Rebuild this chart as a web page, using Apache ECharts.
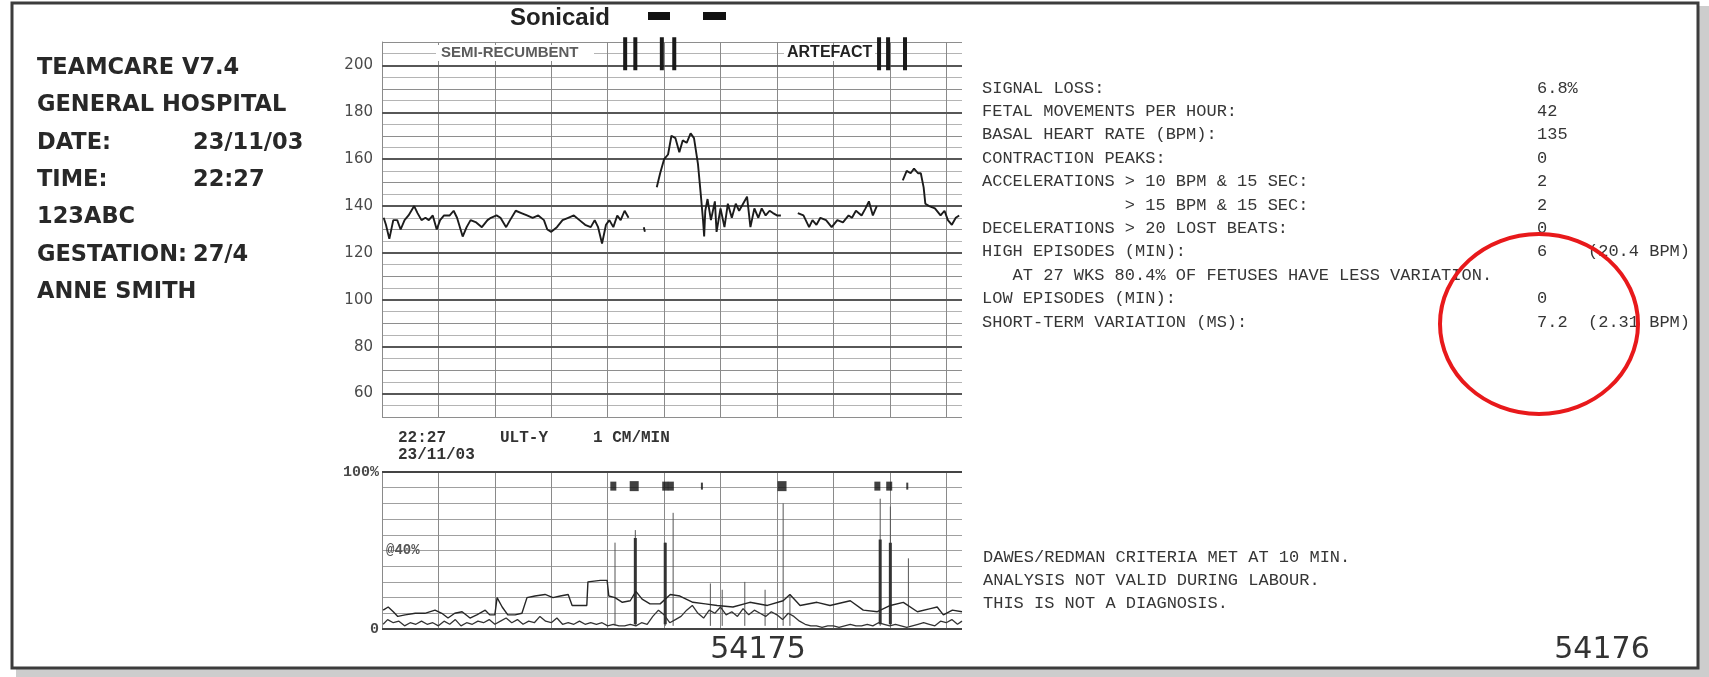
<!DOCTYPE html>
<html>
<head>
<meta charset="utf-8">
<title>CTG trace</title>
<script src="https://cdn.jsdelivr.net/npm/echarts@6.0.0/dist/echarts.min.js"></script>
<style>
  html, body { margin: 0; padding: 0; background: #ffffff; }
  #chart { width: 1709px; height: 677px; }
</style>
</head>
<body>
<div id="chart"></div>
<script>
// ---- Fetal heart rate (bpm) by minute of recording; gaps are signal loss ----
const fhrSegment1 = [
  [0.03,135],[0.07,132],[0.13,126],[0.20,134],[0.27,134],[0.33,130],[0.40,134],[0.47,136],
  [0.57,140],[0.63,137],[0.70,134],[0.77,135],[0.83,134],[0.90,136],[0.97,130],[1.03,134],
  [1.10,136],[1.20,136],[1.27,138],[1.33,135],[1.43,127],[1.50,131],[1.57,134],[1.67,133],
  [1.77,131],[1.87,134],[1.93,135],[2.03,136],[2.10,135],[2.20,131],[2.27,134],[2.37,138],
  [2.47,137],[2.57,136],[2.67,135],[2.77,136],[2.87,134],[2.93,130],[3.00,129],[3.10,131],
  [3.20,134],[3.30,135],[3.40,136],[3.50,134],[3.60,132],[3.70,131],[3.77,134],[3.83,131],
  [3.90,124],[3.97,132],[4.03,134],[4.10,131],[4.17,136],[4.23,134],[4.30,138],[4.37,135]
];
const fhrSegment2 = [[4.64,131],[4.66,129]];
const fhrSegment3 = [
  [4.87,148],[4.93,154],[5.00,160],[5.07,162],[5.13,170],[5.20,169],[5.27,163],[5.33,168],
  [5.40,167],[5.47,171],[5.53,169],[5.60,158],[5.65,145],[5.69,134],[5.71,127],[5.73,138],
  [5.77,143],[5.83,134],[5.90,142],[5.93,129],[6.00,139],[6.07,131],[6.13,141],[6.20,135],
  [6.27,141],[6.33,138],[6.40,141],[6.47,144],[6.53,131],[6.60,139],[6.67,135],[6.73,139],
  [6.80,136],[6.87,138],[6.93,137],[7.00,136],[7.07,136]
];
const fhrSegment4 = [
  [7.37,137],[7.47,136],[7.57,131],[7.63,134],[7.70,132],[7.77,135],[7.87,134],[7.97,131],
  [8.07,134],[8.17,133],[8.27,136],[8.33,135],[8.40,138],[8.50,136],[8.57,139],[8.63,142],
  [8.70,136],[8.77,140]
];
const fhrSegment5 = [
  [9.23,151],[9.30,155],[9.37,154],[9.43,156],[9.50,154],[9.55,154],[9.60,148],[9.63,141],
  [9.70,140],[9.80,139],[9.90,136],[9.97,138],[10.03,134],[10.10,132],[10.17,135],[10.23,136]
];
// event-marker presses (minutes)
const eventMinutes = [4.31, 4.49, 4.96, 5.18, 8.81, 8.97, 9.27];
const fhrTickLabels = [60, 80, 100, 120, 140, 160, 180, 200];

// ---- Uterine activity (%) ----
const tocoUpper = [
  [0.02,12],[0.11,14],[0.20,11],[0.28,8],[0.41,9],[0.59,10],[0.76,10],[0.94,12],[1.06,10],
  [1.17,7],[1.29,10],[1.42,11],[1.56,7],[1.68,9],[1.83,12],[1.91,9],[2.00,9],[2.04,20],
  [2.13,14],[2.23,9],[2.36,9],[2.48,10],[2.57,20],[2.71,21],[2.89,22],[3.03,20],[3.16,21],
  [3.30,22],[3.37,15],[3.51,15],[3.63,15],[3.65,30],[3.87,31],[3.99,31],[4.02,21],[4.13,20],
  [4.26,17],[4.40,18],[4.50,24],[4.61,19],[4.75,16],[4.93,16],[5.11,22],[5.28,21],[5.51,17],
  [5.73,16],[5.94,15],[6.22,14],[6.52,17],[6.83,15],[7.11,18],[7.23,22],[7.41,15],[7.71,17],
  [7.94,15],[8.30,18],[8.53,12],[8.78,11],[9.01,15],[9.24,17],[9.49,11],[9.72,13],[9.84,14],
  [9.95,9],[10.11,12],[10.28,11]
];
const tocoLower = [
  [0.02,3],[0.10,6],[0.20,4],[0.30,5],[0.40,2],[0.50,4],[0.60,3],[0.70,5],[0.80,3],[0.90,4],
  [1.00,2],[1.10,5],[1.20,3],[1.30,6],[1.40,2],[1.50,4],[1.60,3],[1.70,5],[1.80,4],[1.90,6],
  [2.00,3],[2.10,5],[2.20,7],[2.30,4],[2.40,6],[2.50,3],[2.60,5],[2.70,4],[2.80,8],[2.90,5],
  [3.00,4],[3.10,7],[3.20,3],[3.30,4],[3.40,3],[3.50,5],[3.60,3],[3.70,4],[3.80,3],[3.90,4],
  [4.00,2],[4.10,3],[4.20,2],[4.30,2],[4.40,3],[4.50,2],[4.60,4],[4.70,3],[4.80,8],[4.90,12],
  [5.00,9],[5.10,4],[5.20,6],[5.30,8],[5.40,12],[5.50,15],[5.60,10],[5.70,7],[5.80,12],[5.90,10],
  [6.00,14],[6.10,9],[6.20,11],[6.30,8],[6.40,13],[6.50,9],[6.60,12],[6.70,10],[6.80,8],[6.90,11],
  [7.00,9],[7.10,6],[7.20,10],[7.30,8],[7.40,5],[7.50,3],[7.60,2],[7.70,2],[7.80,1],[7.90,2],
  [8.00,2],[8.10,1],[8.20,2],[8.30,3],[8.40,2],[8.50,2],[8.60,3],[8.70,2],[8.80,4],[8.90,3],
  [9.00,2],[9.10,3],[9.20,2],[9.30,1],[9.40,2],[9.50,3],[9.60,4],[9.70,3],[9.80,2],[9.90,5],
  [10.00,4],[10.10,6],[10.20,3],[10.28,5]
];
// movement spikes: minute, peak %, dense body height % (0 = none)
const spikeMinutes = [4.13, 4.49, 5.02, 5.16, 5.82, 6.03, 6.43, 6.79, 7.11, 7.23, 8.83, 9.01, 9.33];
const spikePeak    = [55,   63,   55,   74,   29,   25,   30,   25,   80,   22,   83,   78,   45];
const spikeBody    = [0,    58,   55,   0,    0,    0,    0,    0,    0,    0,    57,   55,   0];
// fetal movement markers along the top of the activity strip
const movementMinutes = [4.10, 4.47, 5.02, 5.12, 5.67, 7.09, 8.78, 8.99, 9.31];
const movementKind    = ['mid', 'big', 'mid', 'mid', 'small', 'big', 'mid', 'mid', 'small'];

// ---- Header and analysis text ----
const headerLines = ['TEAMCARE V7.4', 'GENERAL HOSPITAL', 'DATE:', 'TIME:', '123ABC', 'GESTATION:', 'ANNE SMITH'];
const headerValues = ['', '', '23/11/03', '22:27', '', '27/4', ''];
const summaryLabels = [
  'SIGNAL LOSS:', 'FETAL MOVEMENTS PER HOUR:', 'BASAL HEART RATE (BPM):', 'CONTRACTION PEAKS:',
  'ACCELERATIONS > 10 BPM & 15 SEC:', '              > 15 BPM & 15 SEC:',
  'DECELERATIONS > 20 LOST BEATS:', 'HIGH EPISODES (MIN):',
  '   AT 27 WKS 80.4% OF FETUSES HAVE LESS VARIATION.', 'LOW EPISODES (MIN):', 'SHORT-TERM VARIATION (MS):'
];
const summaryValues = ['6.8%', '42', '135', '0', '2', '2', '0', '6', '', '0', '7.2'];
const summaryExtras = ['', '', '', '', '', '', '', '(20.4 BPM)', '', '', '(2.31 BPM)'];
const footnotes = ['DAWES/REDMAN CRITERIA MET AT 10 MIN.', 'ANALYSIS NOT VALID DURING LABOUR.', 'THIS IS NOT A DIAGNOSIS.'];
const pageNumbers = ['54175', '54176'];

// ---- build series data ----
const GAP = '-';
function joinSegments(segs) {
  const out = [];
  segs.forEach((s, i) => {
    if (i > 0) out.push([(segs[i - 1][segs[i - 1].length - 1][0] + s[0][0]) / 2, GAP]);
    s.forEach(p => out.push(p));
  });
  return out;
}
const fhrData = joinSegments([fhrSegment1, fhrSegment2, fhrSegment3, fhrSegment4, fhrSegment5]);

function verticalStrokes(xs, y0, y1s) {
  const out = [];
  xs.forEach((x, i) => {
    const y1 = Array.isArray(y1s) ? y1s[i] : y1s;
    if (y1 <= 0) return;
    out.push([x, y0], [x, y1], [x, GAP]);
  });
  return out;
}
const eventData = verticalStrokes(eventMinutes, 198, 212);
const spikeThin = verticalStrokes(spikeMinutes, 2, spikePeak);
const spikeThick = verticalStrokes(spikeMinutes, 3, spikeBody);
const kindSize = { big: [9, 10], mid: [6, 9], small: [2, 7] };
const movementData = movementMinutes.map((t, i) => ({ value: [t, 91], symbolSize: kindSize[movementKind[i]] }));

const fhrTicks = [];
for (let v = 50; v <= 210; v += 5) fhrTicks.push(v);
const fhrMinorColors = fhrTicks.map(v => (v % 10 === 0 ? '#8e8e8e' : '#b4b4b4'));

// ---- layout ----
const GRID_LEFT = 382, GRID_RIGHT = 747;
const MONO = '"Liberation Mono", "DejaVu Sans Mono", monospace';
const SANS = '"DejaVu Sans", sans-serif';

const minuteAxis = (gridIndex) => ({
  gridIndex, type: 'value', min: 0, max: 10.28, interval: 1,
  axisLine: { show: false }, axisTick: { show: false }, axisLabel: { show: false },
  splitLine: { show: true, showMaxLine: false, lineStyle: { color: '#8a8a8a', width: 1 } }
});

const graphics = [];
function text(x, y, str, font, fill, align) {
  graphics.push({
    type: 'text', x, y, z: 100,
    style: { text: str, font, fill, textAlign: align || 'left', textVerticalAlign: 'middle', whiteSpace: 'pre' }
  });
}

// page frame with drop shadow
graphics.push({ type: 'rect', z: 90, shape: { x: 16, y: 669, width: 1693, height: 8 }, style: { fill: '#cdcdcd' } });
graphics.push({ type: 'rect', z: 90, shape: { x: 1699, y: 6, width: 10, height: 671 }, style: { fill: '#cdcdcd' } });
graphics.push({ type: 'rect', z: 91, shape: { x: 12, y: 3, width: 1686, height: 665 }, style: { fill: 'none', stroke: '#3c3c3c', lineWidth: 3 } });

// header block
headerLines.forEach((s, i) => {
  const y = 68 + 37.4 * i;
  text(37, y, s, 'bold 22.5px ' + SANS, '#282828');
  if (headerValues[i]) text(193, y, headerValues[i], 'bold 22.5px ' + SANS, '#282828');
});

// monitor title and status bars
text(560, 18, 'Sonicaid', 'bold 24px "Liberation Sans", Arial, sans-serif', '#222', 'center');
graphics.push({ type: 'rect', z: 100, shape: { x: 648, y: 12, width: 22, height: 8 }, style: { fill: '#111' } });
graphics.push({ type: 'rect', z: 100, shape: { x: 703, y: 12, width: 23, height: 8 }, style: { fill: '#111' } });

// annotations inside the heart-rate strip
graphics.push({ type: 'rect', z: 99, shape: { x: 436, y: 45, width: 158, height: 16 }, style: { fill: '#fff' } });
text(441, 53, 'SEMI-RECUMBENT', 'bold 15px "Liberation Sans", Arial, sans-serif', '#5c5c5c');
graphics.push({ type: 'rect', z: 99, shape: { x: 784, y: 45, width: 91, height: 16 }, style: { fill: '#fff' } });
text(787, 53, 'ARTEFACT', 'bold 16px "Liberation Sans", Arial, sans-serif', '#222');

// strip annotations
text(398, 438, '22:27', 'bold 16px ' + MONO, '#333');
text(500, 438, 'ULT-Y', 'bold 16px ' + MONO, '#333');
text(593, 438, '1 CM/MIN', 'bold 16px ' + MONO, '#333');
text(398, 455, '23/11/03', 'bold 16px ' + MONO, '#333');
text(386, 550, '@40%', 'bold 14px ' + MONO, '#555');

// analysis summary
summaryLabels.forEach((s, i) => {
  const y = 88 + 23.4 * i;
  text(982, y, s, '17px ' + MONO, '#363636');
  if (summaryValues[i]) text(1537, y, summaryValues[i], '17px ' + MONO, '#363636');
  if (summaryExtras[i]) text(1588, y, summaryExtras[i], '17px ' + MONO, '#363636');
});
footnotes.forEach((s, i) => text(983, 557 + 23 * i, s, '17px ' + MONO, '#363636'));

// sheet numbers
text(758, 650, pageNumbers[0], '30px ' + SANS, '#333', 'center');
text(1602, 650, pageNumbers[1], '30px ' + SANS, '#333', 'center');

// highlight ring
graphics.push({ type: 'ellipse', z: 120, shape: { cx: 1539, cy: 324, rx: 99, ry: 90 }, style: { fill: 'none', stroke: '#e8191b', lineWidth: 4 } });

const option = {
  animation: false,
  backgroundColor: '#ffffff',
  grid: [
    { left: GRID_LEFT, right: GRID_RIGHT, top: 42, height: 375 },
    { left: GRID_LEFT, right: GRID_RIGHT, top: 472, height: 157 }
  ],
  xAxis: [minuteAxis(0), minuteAxis(1)],
  yAxis: [
    {
      gridIndex: 0, type: 'value', min: 50, max: 210, interval: 5,
      axisLine: { show: true, lineStyle: { color: '#8a8a8a', width: 1 } },
      axisTick: { show: false },
      axisLabel: {
        margin: 9, color: '#4a4a4a', fontFamily: 'DejaVu Sans', fontSize: 15,
        formatter: v => (fhrTickLabels.includes(v) ? String(v) : '')
      },
      splitLine: { show: true, lineStyle: { color: fhrMinorColors, width: 1 } }
    },
    {
      gridIndex: 1, type: 'value', min: 0, max: 100, interval: 10,
      axisLine: { show: true, lineStyle: { color: '#8a8a8a', width: 1 } },
      axisTick: { show: false },
      axisLabel: {
        margin: 3, color: '#4a4a4a', fontFamily: 'Liberation Mono', fontSize: 15, fontWeight: 'bold',
        formatter: v => (v === 100 ? '100%' : v === 0 ? '0' : '')
      },
      splitLine: { show: true, lineStyle: { color: '#a0a0a0', width: 1 } }
    }
  ],
  series: [
    {
      name: 'fhr-grid', type: 'line', xAxisIndex: 0, yAxisIndex: 0, data: [], z: 1, silent: true,
      markLine: {
        silent: true, symbol: 'none', label: { show: false },
        lineStyle: { color: '#575757', width: 2, type: 'solid' },
        data: fhrTickLabels.map(v => ({ yAxis: v }))
      }
    },
    {
      name: 'FHR', type: 'line', xAxisIndex: 0, yAxisIndex: 0, data: fhrData, z: 5,
      showSymbol: false, connectNulls: false,
      lineStyle: { color: '#1c1c1c', width: 1.9 }
    },
    {
      name: 'Events', type: 'line', xAxisIndex: 0, yAxisIndex: 0, data: eventData, z: 6, clip: false,
      showSymbol: false, connectNulls: false,
      lineStyle: { color: '#1a1a1a', width: 4 }
    },
    {
      name: 'toco-grid', type: 'line', xAxisIndex: 1, yAxisIndex: 1, data: [], z: 1, silent: true,
      markLine: {
        silent: true, symbol: 'none', label: { show: false },
        lineStyle: { color: '#444', width: 2, type: 'solid' },
        data: [{ yAxis: 0 }, { yAxis: 100 }]
      }
    },
    {
      name: 'Spikes', type: 'line', xAxisIndex: 1, yAxisIndex: 1, data: spikeThin, z: 4,
      showSymbol: false, connectNulls: false, lineStyle: { color: '#555', width: 1 }
    },
    {
      name: 'SpikeBody', type: 'line', xAxisIndex: 1, yAxisIndex: 1, data: spikeThick, z: 4,
      showSymbol: false, connectNulls: false, lineStyle: { color: '#333', width: 3 }
    },
    {
      name: 'UA', type: 'line', xAxisIndex: 1, yAxisIndex: 1, data: tocoUpper, z: 5,
      showSymbol: false, lineStyle: { color: '#262626', width: 1.4 }
    },
    {
      name: 'UA2', type: 'line', xAxisIndex: 1, yAxisIndex: 1, data: tocoLower, z: 5,
      showSymbol: false, lineStyle: { color: '#333', width: 1.3 }
    },
    {
      name: 'Movements', type: 'scatter', xAxisIndex: 1, yAxisIndex: 1, data: movementData, z: 6,
      symbol: 'rect', itemStyle: { color: '#111' }
    }
  ],
  graphic: { elements: graphics }
};

const chart = echarts.init(document.getElementById('chart'), null, { renderer: 'canvas' });
chart.setOption(option);
</script>
</body>
</html>
